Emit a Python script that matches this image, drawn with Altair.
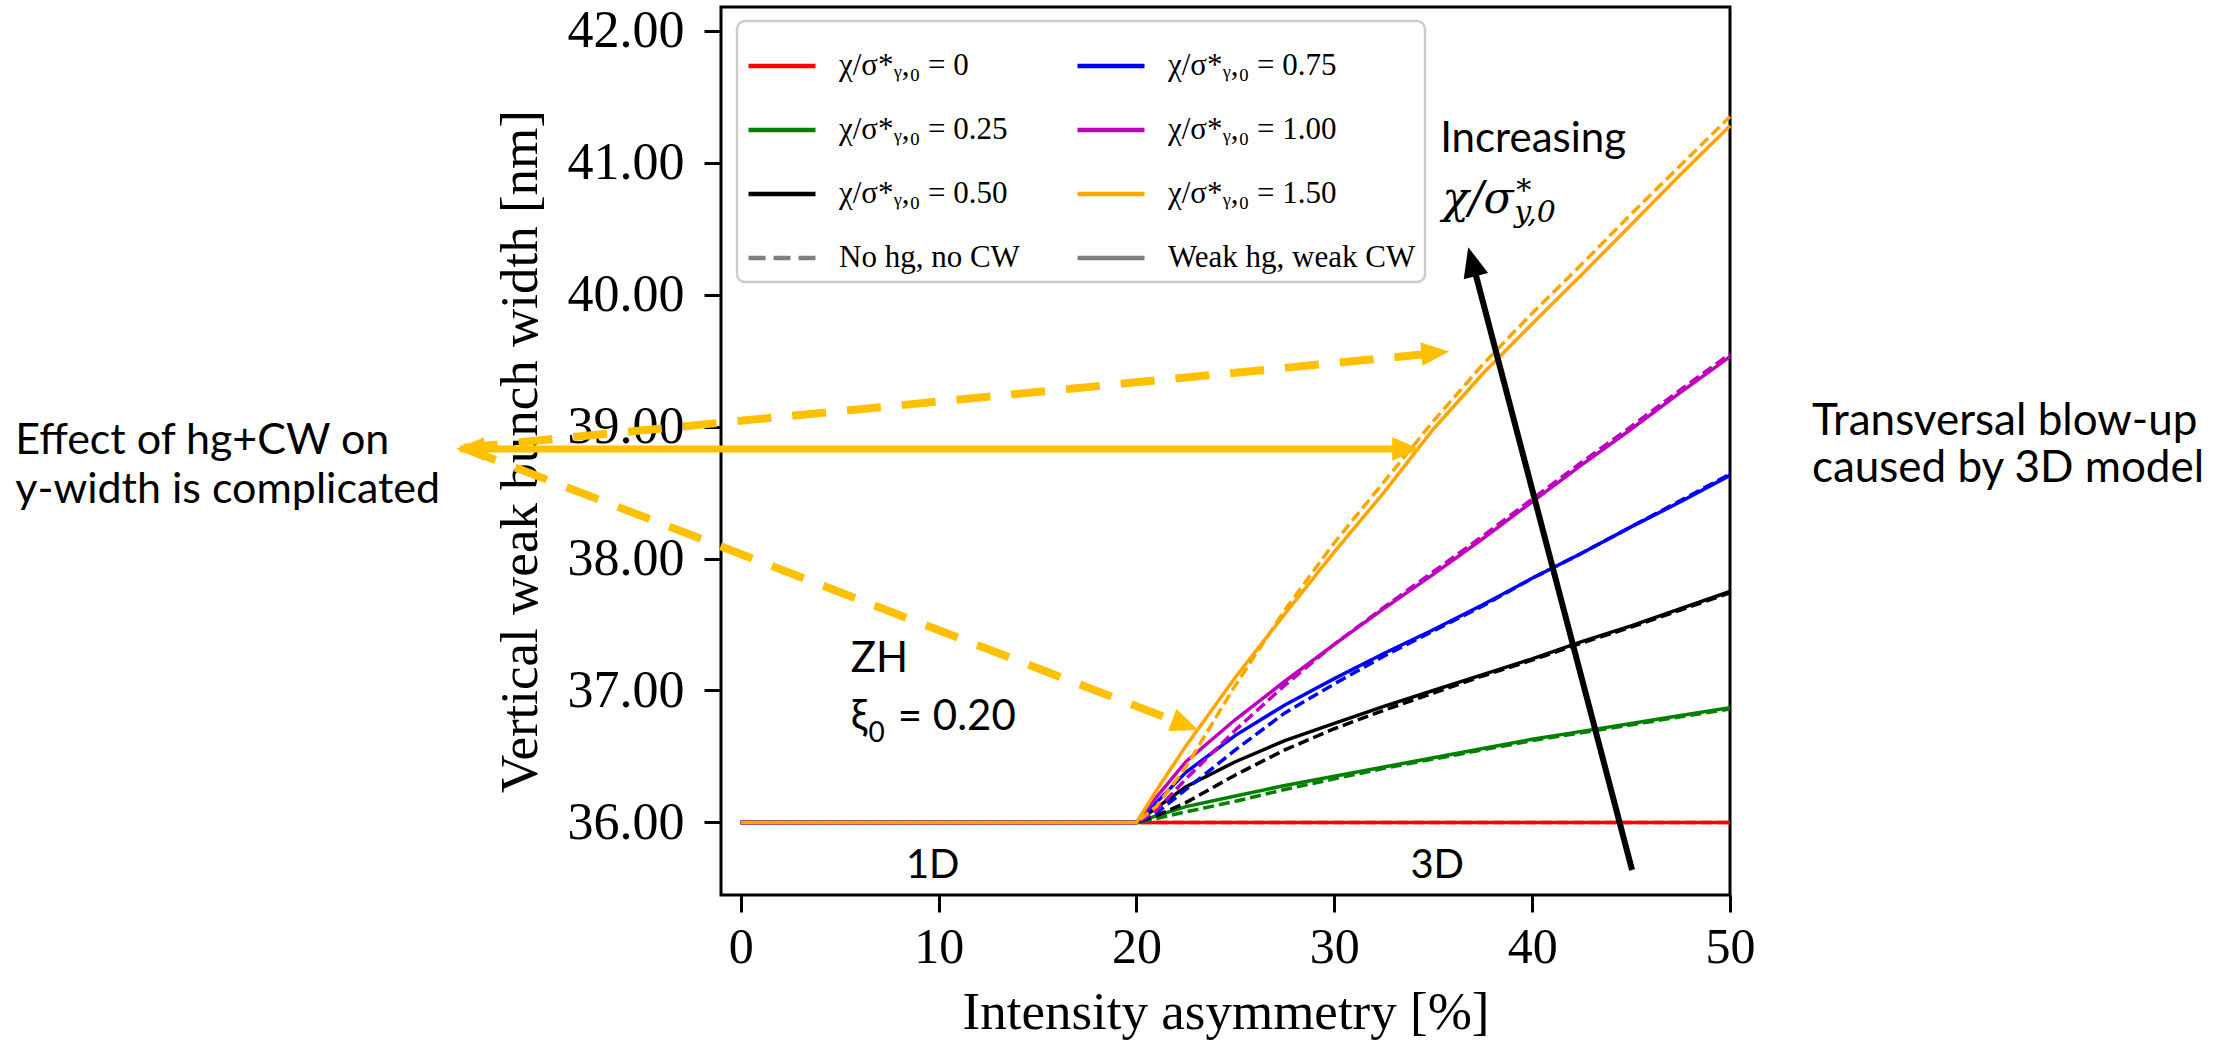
import altair as alt
import pandas as pd

# ---------------- data ----------------
x_vals = [0, 20, 21, 22.5, 25, 27.5, 30, 32.5, 35, 37.5, 40, 42.5, 45, 47.5, 50]

chi_values = ["0", "0.25", "0.50", "0.75", "1.00", "1.50"]
chi_colors = ["#ff0000", "#008000", "#000000", "#0000ff", "#bf00bf", "#ffa500"]

# Weak hg, weak CW (solid)
weak_000 = [36.00, 36.00, 36.00, 36.00, 36.00, 36.00, 36.00, 36.00, 36.00, 36.00, 36.00, 36.00, 36.00, 36.00, 36.00]
weak_025 = [36.00, 36.00, 36.05, 36.12, 36.20, 36.28, 36.35, 36.42, 36.49, 36.56, 36.63, 36.69, 36.75, 36.81, 36.87]
weak_050 = [36.00, 36.00, 36.11, 36.27, 36.46, 36.62, 36.75, 36.88, 37.00, 37.12, 37.24, 37.37, 37.49, 37.62, 37.75]
weak_075 = [36.00, 36.00, 36.15, 36.38, 36.66, 36.89, 37.09, 37.28, 37.46, 37.65, 37.85, 38.04, 38.24, 38.43, 38.63]
weak_100 = [36.00, 36.00, 36.19, 36.46, 36.78, 37.07, 37.35, 37.62, 37.88, 38.15, 38.43, 38.71, 38.98, 39.26, 39.53]
weak_150 = [36.00, 36.00, 36.24, 36.58, 37.10, 37.58, 38.05, 38.50, 38.98, 39.40, 39.78, 40.15, 40.53, 40.91, 41.28]

# No hg, no CW (dashed)
nohg_000 = [36.00, 36.00, 36.00, 36.00, 36.00, 36.00, 36.00, 36.00, 36.00, 36.00, 36.00, 36.00, 36.00, 36.00, 36.00]
nohg_025 = [36.00, 36.00, 36.03, 36.08, 36.16, 36.25, 36.33, 36.41, 36.48, 36.55, 36.62, 36.68, 36.74, 36.80, 36.86]
nohg_050 = [36.00, 36.00, 36.05, 36.15, 36.36, 36.55, 36.71, 36.85, 36.98, 37.11, 37.23, 37.36, 37.48, 37.61, 37.74]
nohg_075 = [36.00, 36.00, 36.07, 36.25, 36.55, 36.83, 37.05, 37.26, 37.45, 37.64, 37.85, 38.04, 38.24, 38.44, 38.64]
nohg_100 = [36.00, 36.00, 36.09, 36.33, 36.70, 37.04, 37.35, 37.63, 37.90, 38.17, 38.45, 38.73, 39.00, 39.28, 39.55]
nohg_150 = [36.00, 36.00, 36.12, 36.42, 37.04, 37.61, 38.12, 38.58, 39.04, 39.47, 39.86, 40.23, 40.61, 40.98, 41.35]

weak_series = [weak_000, weak_025, weak_050, weak_075, weak_100, weak_150]
nohg_series = [nohg_000, nohg_025, nohg_050, nohg_075, nohg_100, nohg_150]

x_ticks = [0, 10, 20, 30, 40, 50]
y_ticks = [36, 37, 38, 39, 40, 41, 42]


def chi_label(v):
    return "\u03c7/\u03c3*\u1d67,\u2080 = " + v


# column-major order (Vega fills legend columns top to bottom)
legend_entries = [chi_label("0"), chi_label("0.25"), chi_label("0.50"), "No hg, no CW",
                  chi_label("0.75"), chi_label("1.00"), chi_label("1.50"), "Weak hg, weak CW"]
legend_colors = ["#ff0000", "#008000", "#000000", "#808080", "#0000ff", "#bf00bf", "#ffa500", "#808080"]
legend_dashes = [[1, 0], [1, 0], [1, 0], [17, 8], [1, 0], [1, 0], [1, 0], [1, 0]]

# annotation data (data coordinates)
left_text = ["Effect of hg+CW on", "y-width is complicated"]
left_x = [-36.67, -36.67]
left_y = [38.79, 38.42]

right_text = ["Transversal blow-up", "caused by 3D model"]
right_x = [54.14, 54.14]
right_y = [38.94, 38.58]

mid_text = ["Increasing", "ZH"]
mid_x = [35.35, 5.56]
mid_y = [41.08, 37.14]

region_text = ["1D", "3D"]
region_x = [9.7, 35.2]
region_y = [35.58, 35.58]

# orange arrows: shafts
shaft_x = [-14.2, -14.0, -14.0]
shaft_y = [38.83, 38.84, 38.84]
shaft_x2 = [33.4, 34.70, 22.10]
shaft_y2 = [38.83, 39.55, 36.76]
shaft_kind = ["solid", "dashed", "dashed"]
# orange arrow heads
head_x = [34.34, -14.39, 35.81, 23.13]
head_y = [38.83, 38.83, 39.57, 36.70]
head_angle = [0, 180, 354.5, 20.85]
# black arrow
black_x, black_y, black_x2, black_y2 = [45.05], [35.64], [37.03], [40.22]
black_head_x, black_head_y, black_head_angle = [36.77], [40.36], [255.25]

# ---------------- chart ----------------
SERIF = "Liberation Serif"
SANS = "Lato"
ORANGE_ANN = "#ffc000"

xs = alt.Scale(domain=[-1, 50], nice=False, zero=False)
ys = alt.Scale(domain=[35.45, 42.18], nice=False, zero=False)

x_axis = alt.Axis(values=x_ticks, format="d", title="Intensity asymmetry [%]", grid=False,
                  domain=False, tickSize=17, tickWidth=3, tickColor="black",
                  labelFont=SERIF, labelFontSize=50, labelColor="black", labelPadding=10,
                  labelFlush=False, labelOverlap=False,
                  titleFont=SERIF, titleFontSize=53, titleFontWeight="normal",
                  titleColor="black", titlePadding=14)
y_axis = alt.Axis(values=y_ticks, format=".2f", title="Vertical weak bunch width [nm]", grid=False,
                  domain=False, tickSize=17, tickWidth=3, tickColor="black",
                  labelFont=SERIF, labelFontSize=52, labelColor="black", labelPadding=20,
                  labelFlush=False, labelOverlap=False,
                  titleFont=SERIF, titleFontSize=53, titleFontWeight="normal",
                  titleColor="black", titlePadding=20)


def X(field="x"):
    return alt.X(field + ":Q", scale=xs, axis=x_axis)


def Y(field="y"):
    return alt.Y(field + ":Q", scale=ys, axis=y_axis)


layers = []
for chi, col, wk, nh in zip(chi_values, chi_colors, weak_series, nohg_series):
    d_dash = pd.DataFrame({"x": x_vals, "y": nh})
    d_solid = pd.DataFrame({"x": x_vals, "y": wk})
    layers.append(alt.Chart(d_dash).mark_line(color=col, strokeWidth=3.5, strokeDash=[11, 5])
                  .encode(x=X(), y=Y(), order="x:Q"))
    layers.append(alt.Chart(d_solid).mark_line(color=col, strokeWidth=3.5)
                  .encode(x=X(), y=Y(), order="x:Q"))

# legend-only layer (single point per entry -> no visible line)
leg_df = pd.DataFrame({"entry": legend_entries, "x": [0] * 8, "y": [36] * 8})
L = alt.Legend(title=None, orient="none", legendX=16, legendY=14, columns=2,
               padding=9, rowPadding=13, columnPadding=48, labelOffset=21,
               symbolType="stroke", symbolSize=4489, symbolStrokeWidth=4.5,
               labelFont=SERIF, labelFontSize=31, labelColor="black", labelLimit=800,
               fillColor="white", strokeColor="#cccccc", cornerRadius=8)
layers.append(
    alt.Chart(leg_df).mark_line().encode(
        x=X(), y=Y(),
        color=alt.Color("entry:N", scale=alt.Scale(domain=legend_entries, range=legend_colors), legend=L),
        strokeDash=alt.StrokeDash("entry:N", scale=alt.Scale(domain=legend_entries, range=legend_dashes), legend=L),
    )
)

# orange arrows
sh = pd.DataFrame({"x": shaft_x, "y": shaft_y, "x2": shaft_x2, "y2": shaft_y2, "kind": shaft_kind})
layers.append(alt.Chart(sh[sh.kind == "solid"]).mark_rule(color=ORANGE_ANN, strokeWidth=7)
              .encode(x=X(), y=Y(), x2="x2:Q", y2="y2:Q"))
layers.append(alt.Chart(sh[sh.kind == "dashed"]).mark_rule(color=ORANGE_ANN, strokeWidth=8, strokeDash=[34, 21])
              .encode(x=X(), y=Y(), x2="x2:Q", y2="y2:Q"))
HEAD = "M0,0L-1,-0.42L-1,0.42Z"
hd = pd.DataFrame({"x": head_x, "y": head_y, "angle": head_angle})
layers.append(alt.Chart(hd).mark_point(shape=HEAD, filled=True, color=ORANGE_ANN, opacity=1, size=3136)
              .encode(x=X(), y=Y(), angle=alt.Angle("angle:Q", scale=None)))

# black arrow
bk = pd.DataFrame({"x": black_x, "y": black_y, "x2": black_x2, "y2": black_y2})
layers.append(alt.Chart(bk).mark_rule(color="black", strokeWidth=6)
              .encode(x=X(), y=Y(), x2="x2:Q", y2="y2:Q"))
bh = pd.DataFrame({"x": black_head_x, "y": black_head_y, "angle": black_head_angle})
layers.append(alt.Chart(bh).mark_point(shape=HEAD, filled=True, color="black", opacity=1, size=3600)
              .encode(x=X(), y=Y(), angle=alt.Angle("angle:Q", scale=None)))

# sans annotations
lt = pd.DataFrame({"x": left_x, "y": left_y, "t": left_text})
layers.append(alt.Chart(lt).mark_text(font=SANS, fontSize=43, align="left", baseline="alphabetic", color="black")
              .encode(x=X(), y=Y(), text="t:N"))
rtx = pd.DataFrame({"x": right_x, "y": right_y, "t": right_text})
layers.append(alt.Chart(rtx).mark_text(font=SANS, fontSize=44, align="left", baseline="alphabetic", color="black")
              .encode(x=X(), y=Y(), text="t:N"))
mt = pd.DataFrame({"x": mid_x, "y": mid_y, "t": mid_text})
layers.append(alt.Chart(mt).mark_text(font=SANS, fontSize=42, align="left", baseline="alphabetic", color="black")
              .encode(x=X(), y=Y(), text="t:N"))
rt = pd.DataFrame({"x": region_x, "y": region_y, "t": region_text})
layers.append(alt.Chart(rt).mark_text(font=SANS, fontSize=40, align="center", baseline="alphabetic", color="black")
              .encode(x=X(), y=Y(), text="t:N"))

# xi_0 = 0.20
xi = pd.DataFrame({"x": [5.56, 7.93], "y": [36.70, 36.70], "t": ["\u03be", "= 0.20"]})
layers.append(alt.Chart(xi).mark_text(font=SANS, fontSize=42, align="left", baseline="alphabetic", color="black")
              .encode(x=X(), y=Y(), text="t:N"))
xi0 = pd.DataFrame({"x": [6.46], "y": [36.61], "t": ["0"]})
layers.append(alt.Chart(xi0).mark_text(font=SANS, fontSize=28, align="left", baseline="alphabetic", color="black")
              .encode(x=X(), y=Y(), text="t:N"))

# chi / sigma*_{y,0}
mm = pd.DataFrame({"x": [35.45], "y": [40.62], "t": ["\u03c7/\u03c3"]})
layers.append(alt.Chart(mm).mark_text(font="DejaVu Serif", fontStyle="italic", fontSize=44, align="left",
                                      baseline="alphabetic", color="black")
              .encode(x=X(), y=Y(), text="t:N"))
sup = pd.DataFrame({"x": [39.2], "y": [40.72], "t": ["*"]})
layers.append(alt.Chart(sup).mark_text(font="DejaVu Serif", fontSize=30, align="left",
                                       baseline="alphabetic", color="black")
              .encode(x=X(), y=Y(), text="t:N"))
sub = pd.DataFrame({"x": [39.1], "y": [40.55], "t": ["y,0"]})
layers.append(alt.Chart(sub).mark_text(font="DejaVu Serif", fontStyle="italic", fontSize=30, align="left",
                                       baseline="alphabetic", color="black")
              .encode(x=X(), y=Y(), text="t:N"))

chart = alt.layer(*layers).properties(
    width=1009, height=888,
    autosize=alt.AutoSizeParams(type="none"),
    padding={"left": 721, "top": 7, "right": 496, "bottom": 155},
    background="white",
).configure_view(stroke="black", strokeWidth=3).configure_legend(strokeWidth=2.5)

chart.save("out.html", embed_options={"renderer": "svg", "actions": False})
